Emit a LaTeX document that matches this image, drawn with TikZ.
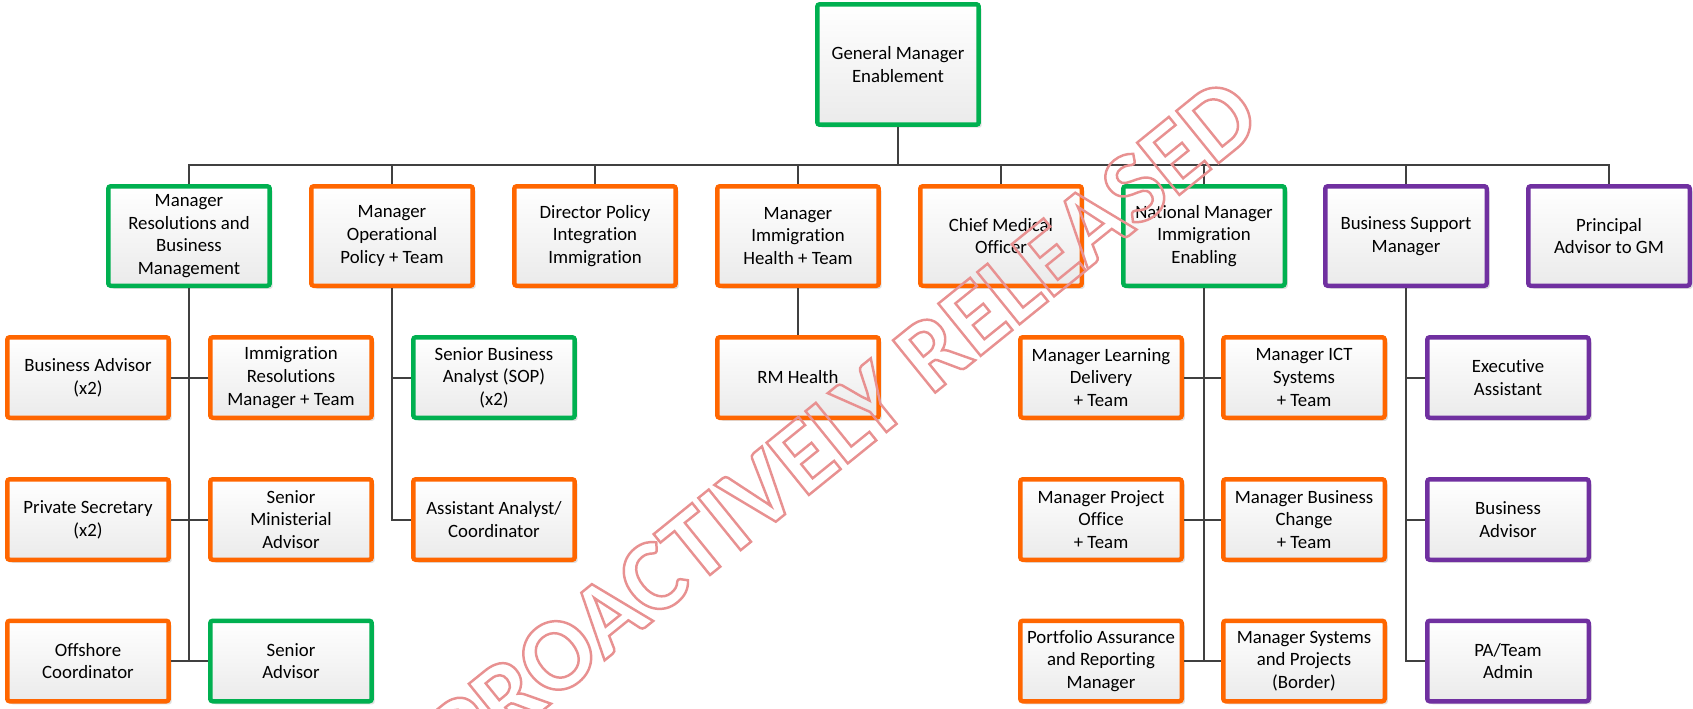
\documentclass[tikz,border=0pt]{standalone}
\usepackage{fontspec}
\setmainfont{Carlito}[Ligatures=NoCommon]
\usetikzlibrary{shadows}
\definecolor{greenbox}{RGB}{0,176,80}
\definecolor{orangebox}{RGB}{255,102,0}
\definecolor{purplebox}{RGB}{112,48,160}
\definecolor{linkgrey}{RGB}{64,64,64}
\definecolor{stampred}{RGB}{232,145,145}

\begin{document}
\begin{tikzpicture}[x=0.02cm,y=-0.02cm,
  box/.style={draw,line width=0.09cm,rounded corners=0.05cm,top color=white,bottom color=black!8,
    drop shadow={shadow xshift=0.06cm,shadow yshift=-0.06cm,fill=black!12,opacity=1},
    align=center,inner sep=0pt,minimum width=3.23cm,font=\fontsize{10.7}{12.9}\selectfont},
  head/.style={box,minimum height=1.99cm},
  sub/.style={box,minimum height=1.61cm},
  grn/.style={draw=greenbox},
  org/.style={draw=orangebox},
  prp/.style={draw=purplebox},
  link/.style={draw=linkgrey,line width=0.04cm}]
\useasboundingbox (0,0) rectangle (1693,708);

% top
\node[box,grn,minimum height=2.41cm] (gm) at (898,64.5) {General Manager\\Enablement};
\coordinate (bus) at (898,165);

% first level
\node[head,grn] (res) at (189,236) {Manager\\Resolutions and\\Business\\Management};
\node[head,org] (opp) at (392,236) {Manager\\Operational\\Policy + Team};
\node[head,org] (dpi) at (595,236) {Director Policy\\Integration\\Immigration};
\node[head,org] (mih) at (798,236) {Manager\\Immigration\\Health + Team};
\node[head,org] (cmo) at (1001,236) {Chief Medical\\Officer};
\node[head,grn] (nmi) at (1204,236) {National Manager\\Immigration\\Enabling};
\node[head,prp] (bsm) at (1406,236) {Business Support\\Manager};
\node[head,prp] (pag) at (1609,236) {Principal\\Advisor to GM};

\draw[link] (gm.south) -- (bus);
\draw[link] (res.north) -- (res.north |- bus) -- (pag.north |- bus) -- (pag.north);
\foreach \n in {opp,dpi,mih,cmo,nmi,bsm}
  \draw[link] (\n.north) -- (\n.north |- bus);

% resolutions
\node[sub,org] (badv) at (88,377.5) {Business Advisor\\(x2)};
\node[sub,org] (irm) at (291,377.5) {Immigration\\Resolutions\\Manager + Team};
\node[sub,org] (psec) at (88,519.5) {Private Secretary\\(x2)};
\node[sub,org] (sma) at (291,519.5) {Senior\\Ministerial\\Advisor};
\node[sub,org] (offc) at (88,661) {Offshore\\Coordinator};
\node[sub,grn] (sadv) at (291,661) {Senior\\Advisor};

\draw[link] (res.south) -- (res.south |- offc.east);
\draw[link] (badv.east) -- (irm.west);
\draw[link] (psec.east) -- (sma.west);
\draw[link] (offc.east) -- (sadv.west);

% operational policy
\node[sub,grn] (sba) at (494,377.5) {Senior Business\\Analyst (SOP)\\(x2)};
\node[sub,org] (aac) at (494,519.5) {Assistant Analyst/\\Coordinator};

\draw[link] (opp.south) |- (aac.west);
\draw[link] (opp.south |- sba.west) -- (sba.west);

% health
\node[sub,org] (rmh) at (798,377.5) {RM Health};
\draw[link] (mih.south) -- (rmh.north);

% enabling
\node[sub,org] (mld) at (1101,377.5) {Manager Learning\\Delivery\\+ Team};
\node[sub,org] (mict) at (1304,377.5) {Manager ICT\\Systems\\+ Team};
\node[sub,org] (mpo) at (1101,519.5) {Manager Project\\Office\\+ Team};
\node[sub,org] (mbc) at (1304,519.5) {Manager Business\\Change\\+ Team};
\node[sub,org] (par) at (1101,661) {Portfolio Assurance\\and Reporting\\Manager};
\node[sub,org] (msp) at (1304,661) {Manager Systems\\and Projects\\(Border)};

\draw[link] (nmi.south) -- (nmi.south |- par.east);
\draw[link] (mld.east) -- (mict.west);
\draw[link] (mpo.east) -- (mbc.west);
\draw[link] (par.east) -- (msp.west);

% business support
\node[sub,prp] (exa) at (1508,377.5) {Executive\\Assistant};
\node[sub,prp] (bad2) at (1508,519.5) {Business\\Advisor};
\node[sub,prp] (pata) at (1508,661) {PA/Team\\Admin};

\draw[link] (bsm.south) |- (pata.west);
\draw[link] (bsm.south |- exa.west) -- (exa.west);
\draw[link] (bsm.south |- bad2.west) -- (bad2.west);

% stamp
\node[rotate=39,text=stampred,inner sep=0pt,font=\bfseries\fontsize{59}{59}\selectfont] (stamp) at (843,424)
  {\special{pdf:literal 1 Tr 1.4 w}PROACTIVELY RELEASED\special{pdf:literal 0 Tr}};

\end{tikzpicture}
\end{document}
